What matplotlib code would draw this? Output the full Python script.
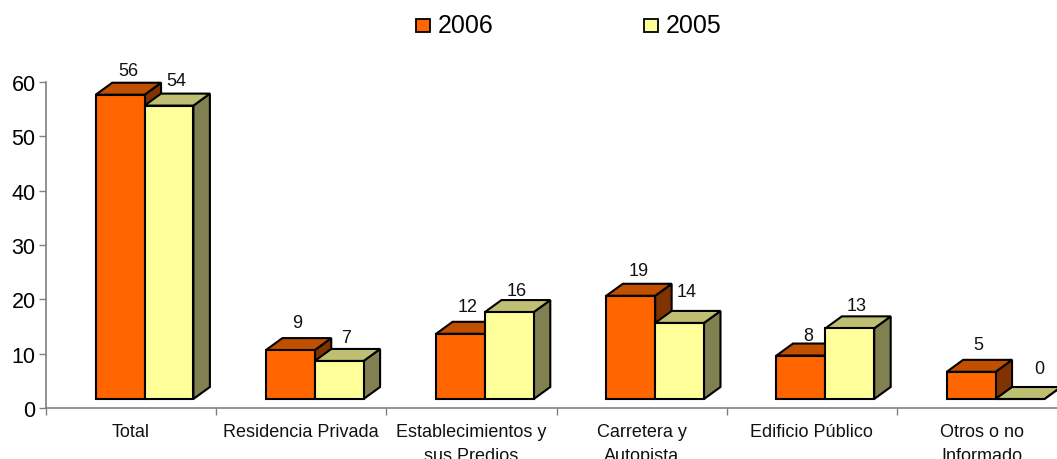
import matplotlib
matplotlib.use("Agg")
import matplotlib.pyplot as plt
from matplotlib.patches import Polygon, Rectangle

plt.rcParams["font.family"] = ["Liberation Sans", "DejaVu Sans"]

categories = ["Total", "Residencia Privada", "Establecimientos y\nsus Predios",
              "Carretera y\nAutopista", "Edificio Público", "Otros o no\nInformado"]
values_2006 = [56, 9, 12, 19, 8, 5]
values_2005 = [54, 7, 16, 14, 13, 0]
y_ticks = [0, 10, 20, 30, 40, 50, 60]

# label shifts in points, the source chart moved some of them around
nudge_2006 = [(0, 0), (-1, 2), (-1, 2), (0, 0.5), (-1, -3), (-1, 2)]
nudge_2005 = [(-1, 0.5), (-1, -1), (-1, -2), (-1, 5), (-1, -1.5), (8, 4)]

# colours: front, top, side
orange = ("#FF6600", "#C05000", "#803300")
yellow = ("#FFFF99", "#BFBF73", "#808050")

W, H = 1057, 460
x0, y0, y1 = 46, 409, 83
cat_w = 170.2  # pixels per category

fig = plt.figure(figsize=(W / 100, H / 100), dpi=100)
ax = fig.add_axes([x0 / W, 1 - y0 / H, 1 - x0 / W, (y0 - y1) / H])
ax.set_xlim(0, (W - x0) / cat_w)
ax.set_ylim(0, 60)

# 3d look, in data units
bar_w = 0.287
bar_off = 0.292
depth_x = 16.5 / cat_w
depth_y = 12 / (y0 - y1) * 60
floor = 9 / (y0 - y1) * 60


def draw_bar(left, value, cols, nudge):
    right = left + bar_w
    top = floor + value
    kw = dict(edgecolor="black", linewidth=1.5, joinstyle="miter", clip_on=False)
    ax.add_patch(Polygon([(right, floor), (right + depth_x, floor + depth_y),
                          (right + depth_x, top + depth_y), (right, top)],
                         facecolor=cols[2], **kw))
    ax.add_patch(Polygon([(left, top), (right, top),
                          (right + depth_x, top + depth_y), (left + depth_x, top + depth_y)],
                         facecolor=cols[1], **kw))
    ax.add_patch(Rectangle((left, floor), bar_w, value, facecolor=cols[0], **kw))
    ax.annotate(str(value), (left + bar_w / 2 + depth_x / 2, top + depth_y),
                xytext=(nudge[0], 3 + nudge[1]), textcoords="offset points", ha="center", va="bottom",
                fontsize=13, color="#111111", annotation_clip=False)


for i in range(len(categories)):
    draw_bar(i + bar_off, values_2006[i], orange, nudge_2006[i])
    draw_bar(i + bar_off + bar_w, values_2005[i], yellow, nudge_2005[i])

for s in ("top", "right"):
    ax.spines[s].set_visible(False)
for s in ("left", "bottom"):
    ax.spines[s].set_color("#808080")
    ax.spines[s].set_linewidth(1.2)

ax.set_yticks(y_ticks)
ax.tick_params(axis="y", labelsize=15.5, length=5, width=1, color="#808080", pad=2.5)
ax.set_xticks(range(len(categories)))
ax.set_xticklabels([])
ax.tick_params(axis="x", which="major", length=5, width=1, color="#808080")
ax.set_xticks([i + 0.5 for i in range(len(categories))], minor=True)
ax.set_xticklabels(categories, minor=True, fontsize=13, linespacing=1.55, color="#111111")
ax.tick_params(axis="x", which="minor", length=0, pad=10.5)

# legend placed by hand like the source
leg_y = 1 - 26 / H
for lx, lbl, col in [(416, "2006", orange[0]), (644, "2005", yellow[0])]:
    fig.patches.append(Rectangle((lx / W, leg_y - 6.5 / H), 14 / W, 13 / H, transform=fig.transFigure,
                                 facecolor=col, edgecolor="black", linewidth=1.3))
    fig.text((lx + 22) / W, leg_y, lbl, fontsize=18, va="center", ha="left", color="black")

fig.savefig("out.png", dpi=100)
